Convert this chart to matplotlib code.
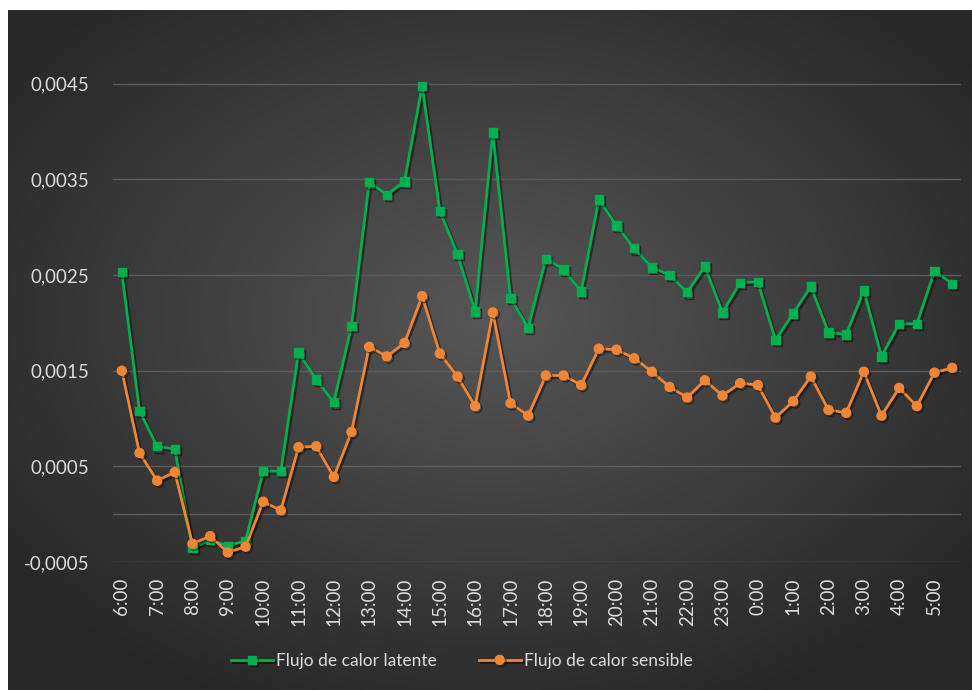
import numpy as np
import matplotlib
matplotlib.use("Agg")
import matplotlib.pyplot as plt
import matplotlib.patheffects as pe
from matplotlib.ticker import FixedLocator, FuncFormatter

plt.rcParams['font.family'] = ['Lato', 'DejaVu Sans']

# ---- data (half-hourly, 6:00 -> 5:30) ----
hour_labels = ['6:00', '7:00', '8:00', '9:00', '10:00', '11:00', '12:00', '13:00',
               '14:00', '15:00', '16:00', '17:00', '18:00', '19:00', '20:00', '21:00',
               '22:00', '23:00', '0:00', '1:00', '2:00', '3:00', '4:00', '5:00']

latente = [0.00253, 0.00108, 0.00071, 0.00068, -0.00035, -0.00027, -0.00033, -0.00028,
           0.00045, 0.00045, 0.00169, 0.00141, 0.00117, 0.00197, 0.00347, 0.00334,
           0.00348, 0.00448, 0.00317, 0.00272, 0.00212, 0.00399, 0.00226, 0.00195,
           0.00267, 0.00256, 0.00233, 0.00329, 0.00302, 0.00278, 0.00258, 0.00250,
           0.00232, 0.00259, 0.00211, 0.00242, 0.00243, 0.00182, 0.00210, 0.00238,
           0.00190, 0.00188, 0.00234, 0.00165, 0.00199, 0.00199, 0.00254, 0.00241]

sensible = [0.00150, 0.00064, 0.00035, 0.00044, -0.00031, -0.00023, -0.00040, -0.00034,
            0.00013, 0.00004, 0.00070, 0.00071, 0.00039, 0.00086, 0.00175, 0.00165,
            0.00179, 0.00228, 0.00168, 0.00144, 0.00113, 0.00211, 0.00116, 0.00103,
            0.00145, 0.00145, 0.00135, 0.00173, 0.00172, 0.00163, 0.00149, 0.00133,
            0.00122, 0.00140, 0.00124, 0.00137, 0.00135, 0.00101, 0.00118, 0.00144,
            0.00109, 0.00106, 0.00149, 0.00103, 0.00132, 0.00113, 0.00148, 0.00153]

fig = plt.figure(figsize=(9.72, 6.9), dpi=100, facecolor='white')

# dark radial gradient chart area
bg = fig.add_axes([8 / 972, 0, 964 / 972, 680 / 690])
gx, gy = np.meshgrid(np.linspace(-1, 1, 400), np.linspace(-1, 1, 300))
r = np.clip(np.sqrt(gx ** 2 + (gy + 0.1) ** 2) / 1.25, 0, 1)
c_in, c_out = 0.34, 0.155
img = c_in + (c_out - c_in) * r
bg.imshow(np.dstack([img, img, img]), aspect='auto', extent=[0, 1, 0, 1])
bg.set_axis_off()

ax = fig.add_axes([113 / 972, 1 - 562 / 690, 848 / 972, 526 / 690])
ax.patch.set_alpha(0)

x = np.arange(len(latente))
shadow = [pe.SimpleLineShadow(offset=(1.5, -1.5), shadow_color='black', alpha=0.45), pe.Normal()]
ax.plot(x, latente, color='#00B050', lw=2, marker='s', markersize=6,
        label='Flujo de calor latente', path_effects=shadow, zorder=3)
ax.plot(x, sensible, color='#F08535', lw=2, marker='o', markersize=6.5,
        label='Flujo de calor sensible', path_effects=shadow, zorder=3)

ax.set_xlim(-0.5, len(latente) - 0.5)
ax.set_ylim(-0.0005, 0.005)

yt = [-0.0005, 0.0005, 0.0015, 0.0025, 0.0035, 0.0045]
ax.yaxis.set_major_locator(FixedLocator(yt))
ax.yaxis.set_major_formatter(FuncFormatter(lambda v, p: f'{v:.4f}'.replace('.', ',')))
for v in yt:
    ax.axhline(v, color='#5c5c5c', lw=1, zorder=1)
ax.axhline(0, color='#5c5c5c', lw=1, zorder=1)

ax.set_xticks(np.arange(0, len(latente), 2))
ax.set_xticklabels(hour_labels, rotation=90, ha='center', va='top')

ax.tick_params(axis='y', length=0, pad=17, labelsize=13.5, labelcolor='#dcdcdc')
ax.tick_params(axis='x', length=0, pad=11, labelsize=13.5, labelcolor='#dcdcdc')
for s in ax.spines.values():
    s.set_visible(False)

leg = fig.legend(loc='center', bbox_to_anchor=(462 / 972, 1 - 661 / 690), ncol=2,
                 frameon=False, fontsize=12.5, labelcolor='#dcdcdc',
                 handlelength=2.4, handletextpad=0.2, columnspacing=2.4)

plt.savefig('out.png', dpi=100, facecolor='white')
